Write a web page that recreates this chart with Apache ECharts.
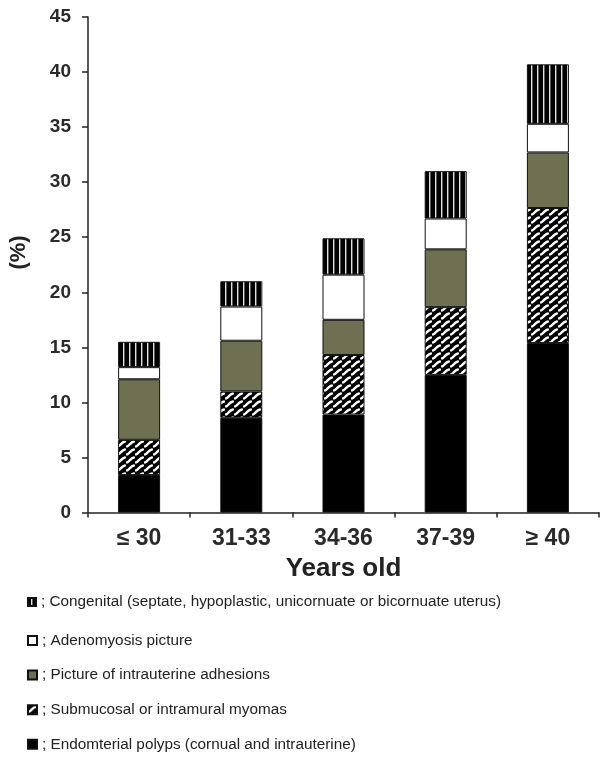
<!DOCTYPE html>
<html>
<head>
<meta charset="utf-8">
<script src="https://cdn.jsdelivr.net/npm/echarts@6/dist/echarts.min.js"></script>
<style>html,body{margin:0;padding:0;background:#fff}#c{width:600px;height:757px}</style>
</head>
<body>
<div id="c"></div>
<script>
const categories = ['\u2264 30', '31-33', '34-36', '37-39', '\u2265 40'];
const polyps = [3.4, 8.6, 8.9, 12.5, 15.4];
const myomas = [3.2, 2.4, 5.4, 6.15, 12.25];
const adhesions = [5.5, 4.6, 3.2, 5.25, 5.05];
const adenomyosis = [1.1, 3.1, 4.1, 2.8, 2.6];
const congenital = [2.3, 2.3, 3.3, 4.3, 5.4];
const yTicks = {min: 0, max: 45, interval: 5};
const names = {
  congenital: 'Congenital (septate, hypoplastic, unicornuate or bicornuate uterus)',
  adenomyosis: 'Adenomyosis picture',
  adhesions: 'Picture of intrauterine adhesions',
  myomas: 'Submucosal or intramural myomas',
  polyps: 'Endomterial polyps (cornual and intrauterine)'
};

function stripePattern() {
  const c = document.createElement('canvas');
  c.width = 6; c.height = 6;
  const g = c.getContext('2d');
  g.fillStyle = '#000'; g.fillRect(0, 0, 6, 6);
  g.fillStyle = '#e0e0e0'; g.fillRect(3, 0, 1.4, 6);
  return c;
}
function wavePattern() {
  const c = document.createElement('canvas');
  c.width = 9; c.height = 8;
  const g = c.getContext('2d');
  g.fillStyle = '#000'; g.fillRect(0, 0, 9, 8);
  g.strokeStyle = '#fff'; g.lineWidth = 2.5; g.lineCap = 'round';
  g.beginPath();
  g.moveTo(1, 6.4);
  g.bezierCurveTo(3.6, 6.2, 4.2, 1.8, 8, 1.5);
  g.stroke();
  return c;
}

const FONT = '"Liberation Sans", Arial, Helvetica, sans-serif';
const chart = echarts.init(document.getElementById('c'));
const border = {borderColor: '#111', borderWidth: 1};
function bar(name, data, color) {
  return {
    name: name, type: 'bar', stack: 'total', data: data, barWidth: 42,
    itemStyle: Object.assign({color: color}, border),
    emphasis: {disabled: true}
  };
}
const legendText = {fontFamily: FONT, fontSize: 15.3, color: '#222', lineHeight: 17};
chart.setOption({
  animation: false,
  backgroundColor: '#fff',
  grid: {left: 88, right: 1, top: 17, bottom: 244.5},
  xAxis: {
    type: 'category', data: categories,
    name: 'Years old', nameLocation: 'middle', nameGap: 43,
    nameTextStyle: {fontFamily: FONT, fontSize: 26, fontWeight: 'bold', color: '#222'},
    axisLine: {lineStyle: {color: '#222', width: 1.5}},
    axisTick: {show: true, length: 5, lineStyle: {color: '#222', width: 1.5}},
    axisLabel: {margin: 15, fontFamily: FONT, fontSize: 23, fontWeight: 'bold', color: '#2a2a2a'}
  },
  yAxis: {
    type: 'value', min: yTicks.min, max: yTicks.max, interval: yTicks.interval,
    splitLine: {show: false},
    axisLine: {show: true, lineStyle: {color: '#222', width: 1.5}},
    axisTick: {show: true, length: 6, lineStyle: {color: '#222', width: 1.5}},
    axisLabel: {margin: 17, fontFamily: FONT, fontSize: 19, fontWeight: 'bold', color: '#2a2a2a'}
  },
  legend: [
    {
      data: [names.congenital], orient: 'vertical', left: 27, top: 593.5, padding: 0,
      icon: 'rect', itemWidth: 8, itemHeight: 8, selectedMode: false,
      formatter: '; {name}', textStyle: legendText
    },
    {
      data: [names.adenomyosis, names.adhesions, names.myomas, names.polyps],
      orient: 'vertical', left: 27, top: 632, itemGap: 17.6, padding: 0,
      icon: 'rect', itemWidth: 9, itemHeight: 9, selectedMode: false,
      formatter: '; {name}', textStyle: legendText
    }
  ],
  graphic: [{
    type: 'text', x: 18.5, y: 252.5, rotation: Math.PI / 2,
    style: {text: '(%)', font: 'bold 22px ' + FONT, fill: '#222', align: 'center', verticalAlign: 'middle'}
  }],
  series: [
    bar(names.polyps, polyps, '#000'),
    bar(names.myomas, myomas, {image: wavePattern(), repeat: 'repeat'}),
    bar(names.adhesions, adhesions, '#6f6f52'),
    bar(names.adenomyosis, adenomyosis, '#fff'),
    bar(names.congenital, congenital, {image: stripePattern(), repeat: 'repeat'})
  ]
});
</script>
</body>
</html>
